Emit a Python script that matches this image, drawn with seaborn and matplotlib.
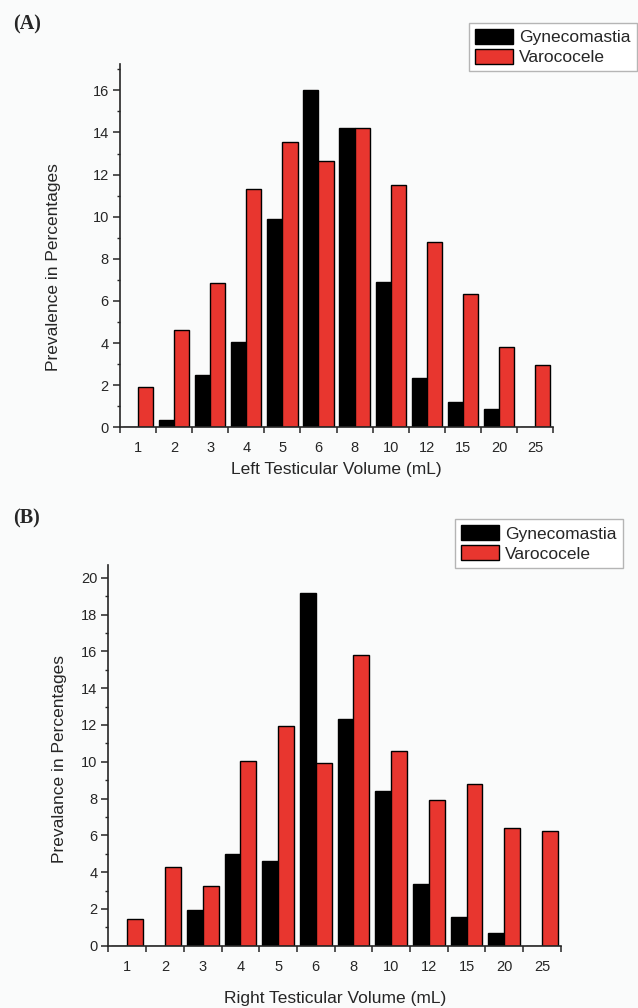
import matplotlib
matplotlib.use("Agg")
import pandas as pd
import matplotlib.pyplot as plt
from matplotlib.ticker import MultipleLocator, FixedLocator
import seaborn as sns

# ── Data ──────────────────────────────────────────────────────────────────────
volumes = ["1", "2", "3", "4", "5", "6", "8", "10", "12", "15", "20", "25"]
groups = ["Gynecomastia", "Varococele"]

left_gyn = [0, 0.35, 2.5, 4.05, 9.9, 16.0, 14.2, 6.9, 2.35, 1.18, 0.85, 0]
left_var = [1.9, 4.6, 6.85, 11.3, 13.55, 12.65, 14.2, 11.5, 8.8, 6.35, 3.8, 2.95]

right_gyn = [0, 0, 1.95, 5.0, 4.6, 19.2, 12.3, 8.4, 3.37, 1.58, 0.71, 0]
right_var = [1.43, 4.3, 3.25, 10.05, 11.95, 9.95, 15.8, 10.6, 7.9, 8.8, 6.4, 6.25]

COLORS = {"Gynecomastia": "#000000", "Varococele": "#e8362f"}
BG = "#fafbfb"


def long_table(gyn, var):
    return pd.DataFrame({
        "volume": volumes * 2,
        "group": [groups[0]] * len(volumes) + [groups[1]] * len(volumes),
        "value": list(gyn) + list(var),
    })


sns.set_style("ticks")
plt.rcParams["font.family"] = ["Liberation Sans", "DejaVu Sans"]

fig = plt.figure(figsize=(6.38, 10.08), dpi=100, facecolor=BG)

panels = [
    # (rect, data, ylim top, major step, xlabel, ylabel, ylabel pos, xlabel y, legend anchor, tag y, tag)
    ([0.188, 0.5761, 0.679, 0.3604], long_table(left_gyn, left_var), 17.25, 2,
     "Left Testicular Volume (mL)", "Prevalence in Percentages", (-0.154, 0.44),
     -0.116, (0.735, 0.9775), 0.976, "(A)"),
    ([0.170, 0.0618, 0.709, 0.3777], long_table(right_gyn, right_var), 20.7, 2,
     "Right Testicular Volume (mL)", "Prevalance in Percentages", (-0.109, 0.49),
     -0.138, (0.713, 0.4848), 0.486, "(B)"),
]

for rect, df, ytop, step, xlab, ylab, ylpos, xly, leg_anchor, tag_y, tag in panels:
    ax = fig.add_axes(rect)
    ax.set_facecolor(BG)
    sns.barplot(data=df, x="volume", y="value", hue="group", order=volumes,
                hue_order=groups, palette=COLORS, width=0.84, gap=0,
                edgecolor="black", linewidth=1.0, saturation=1, ax=ax)

    ax.set_xlim(-0.5, len(volumes) - 0.5)
    ax.set_ylim(0, ytop)
    sns.despine(ax=ax)
    for s in ("left", "bottom"):
        ax.spines[s].set_linewidth(1.2)

    # y ticks: labelled every 2, minor every 1
    ax.yaxis.set_major_locator(MultipleLocator(step))
    ax.yaxis.set_minor_locator(MultipleLocator(1))
    ax.tick_params(axis="y", which="major", length=5, width=1.1, pad=3, labelsize=10.5)
    ax.tick_params(axis="y", which="minor", length=2.5, width=1.0)

    # x ticks: labels at bar groups, marks at group boundaries
    ax.xaxis.set_minor_locator(FixedLocator([i - 0.5 for i in range(len(volumes) + 1)]))
    ax.tick_params(axis="x", which="major", length=0, pad=10, labelsize=10.5)
    ax.tick_params(axis="x", which="minor", length=4, width=1.1)

    ax.set_xlabel(xlab, fontsize=12.5)
    ax.set_ylabel(ylab, fontsize=12.5)
    ax.xaxis.set_label_coords(0.5, xly)
    ax.xaxis.label.set_va("center")
    ax.yaxis.set_label_coords(*ylpos)
    ax.yaxis.label.set_va("center")

    handles, labels = ax.get_legend_handles_labels()
    ax.get_legend().remove()
    leg = fig.legend(handles, labels, loc="upper left", bbox_to_anchor=leg_anchor,
                     bbox_transform=fig.transFigure, fontsize=12.5, frameon=True,
                     fancybox=False, framealpha=1, edgecolor="#b5b5b5",
                     handlelength=2.2, handleheight=0.95, handletextpad=0.35,
                     labelspacing=0.2, borderpad=0.35, borderaxespad=0)
    leg.get_frame().set_linewidth(1.0)
    leg.get_frame().set_facecolor("white")

    fig.text(0.02, tag_y, tag, family=["Liberation Serif", "DejaVu Serif"],
             fontweight="bold", fontsize=14.5, ha="left", va="center")

fig.savefig("out.png", dpi=100, facecolor=BG)
